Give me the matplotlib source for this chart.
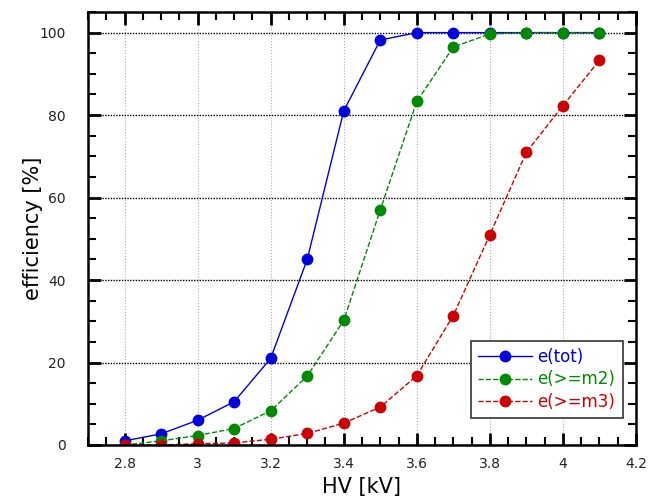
import matplotlib
matplotlib.use("Agg")
import matplotlib.pyplot as plt
from matplotlib.ticker import MultipleLocator

# HV points [kV]
hv = [2.8, 2.9, 3.0, 3.1, 3.2, 3.3, 3.4, 3.5, 3.6, 3.7, 3.8, 3.9, 4.0, 4.1]

# efficiencies [%]
eff_tot = [1.0, 2.7, 6.0, 10.5, 21.0, 45.0, 81.0, 98.2, 100, 100, 100, 100, 100, 100]
eff_m2 = [0.0, 1.0, 2.3, 4.0, 8.3, 16.7, 30.2, 57.0, 83.3, 96.5, 99.7, 100, 100, 100]
eff_m3 = [0.0, 0.0, 0.3, 0.5, 1.4, 2.8, 5.3, 9.2, 16.8, 31.4, 51.0, 71.0, 82.3, 93.3]

BLUE = "#0000dd"
GREEN = "#008a00"
RED = "#cc0000"

fig = plt.figure(figsize=(6.48, 5.01), dpi=100)
ax = fig.add_axes([88 / 648, 1 - 445 / 501, (636 - 88) / 648, (445 - 12) / 501])

ax.plot(hv, eff_tot, "-", color=BLUE, lw=1.0, marker="o", ms=7.5, label="e(tot)")
ax.plot(hv, eff_m2, "--", color=GREEN, lw=1.0, marker="o", ms=7.5, label="e(>=m2)")
ax.plot(hv, eff_m3, "--", color=RED, lw=1.0, marker="o", ms=7.5, label="e(>=m3)")

ax.set_xlim(2.7, 4.2)
ax.set_ylim(0, 105)
ax.xaxis.set_major_locator(MultipleLocator(0.2))
ax.xaxis.set_minor_locator(MultipleLocator(0.05))
ax.yaxis.set_major_locator(MultipleLocator(20))
ax.yaxis.set_minor_locator(MultipleLocator(5))
ax.set_xticks([2.8, 3.0, 3.2, 3.4, 3.6, 3.8, 4.0, 4.2])
ax.set_xticklabels(["2.8", "3", "3.2", "3.4", "3.6", "3.8", "4", "4.2"])

ax.xaxis.grid(True, which="major", color="#aaaaaa", ls=":", lw=0.8)
ax.yaxis.grid(True, which="major", color="black", ls=(0, (1, 1)), lw=1.0)

ax.tick_params(which="both", direction="in", top=True, right=True, labelsize=10,
               labelcolor="#222222")
ax.tick_params(axis="x", pad=9)
ax.tick_params(axis="y", pad=16)
ax.tick_params(which="major", length=9, width=2)
ax.tick_params(which="minor", length=6, width=1.5)
for s in ax.spines.values():
    s.set_linewidth(1.8)

ax.set_xlabel("HV [kV]", fontsize=15, labelpad=4)
ax.set_ylabel("efficiency [%]", fontsize=15)
ax.yaxis.set_label_coords(-0.082, 0.5)

leg = ax.legend(loc="lower right", bbox_to_anchor=(0.976, 0.062), borderaxespad=0,
                fontsize=12, fancybox=False, edgecolor="#333333", framealpha=1,
                handlelength=3.2, borderpad=0.45, labelspacing=0.25, handletextpad=0.35,
                numpoints=1)
leg.get_frame().set_linewidth(1.2)
for txt, c in zip(leg.get_texts(), [BLUE, GREEN, RED]):
    txt.set_color(c)

fig.savefig("out.png", dpi=100)
